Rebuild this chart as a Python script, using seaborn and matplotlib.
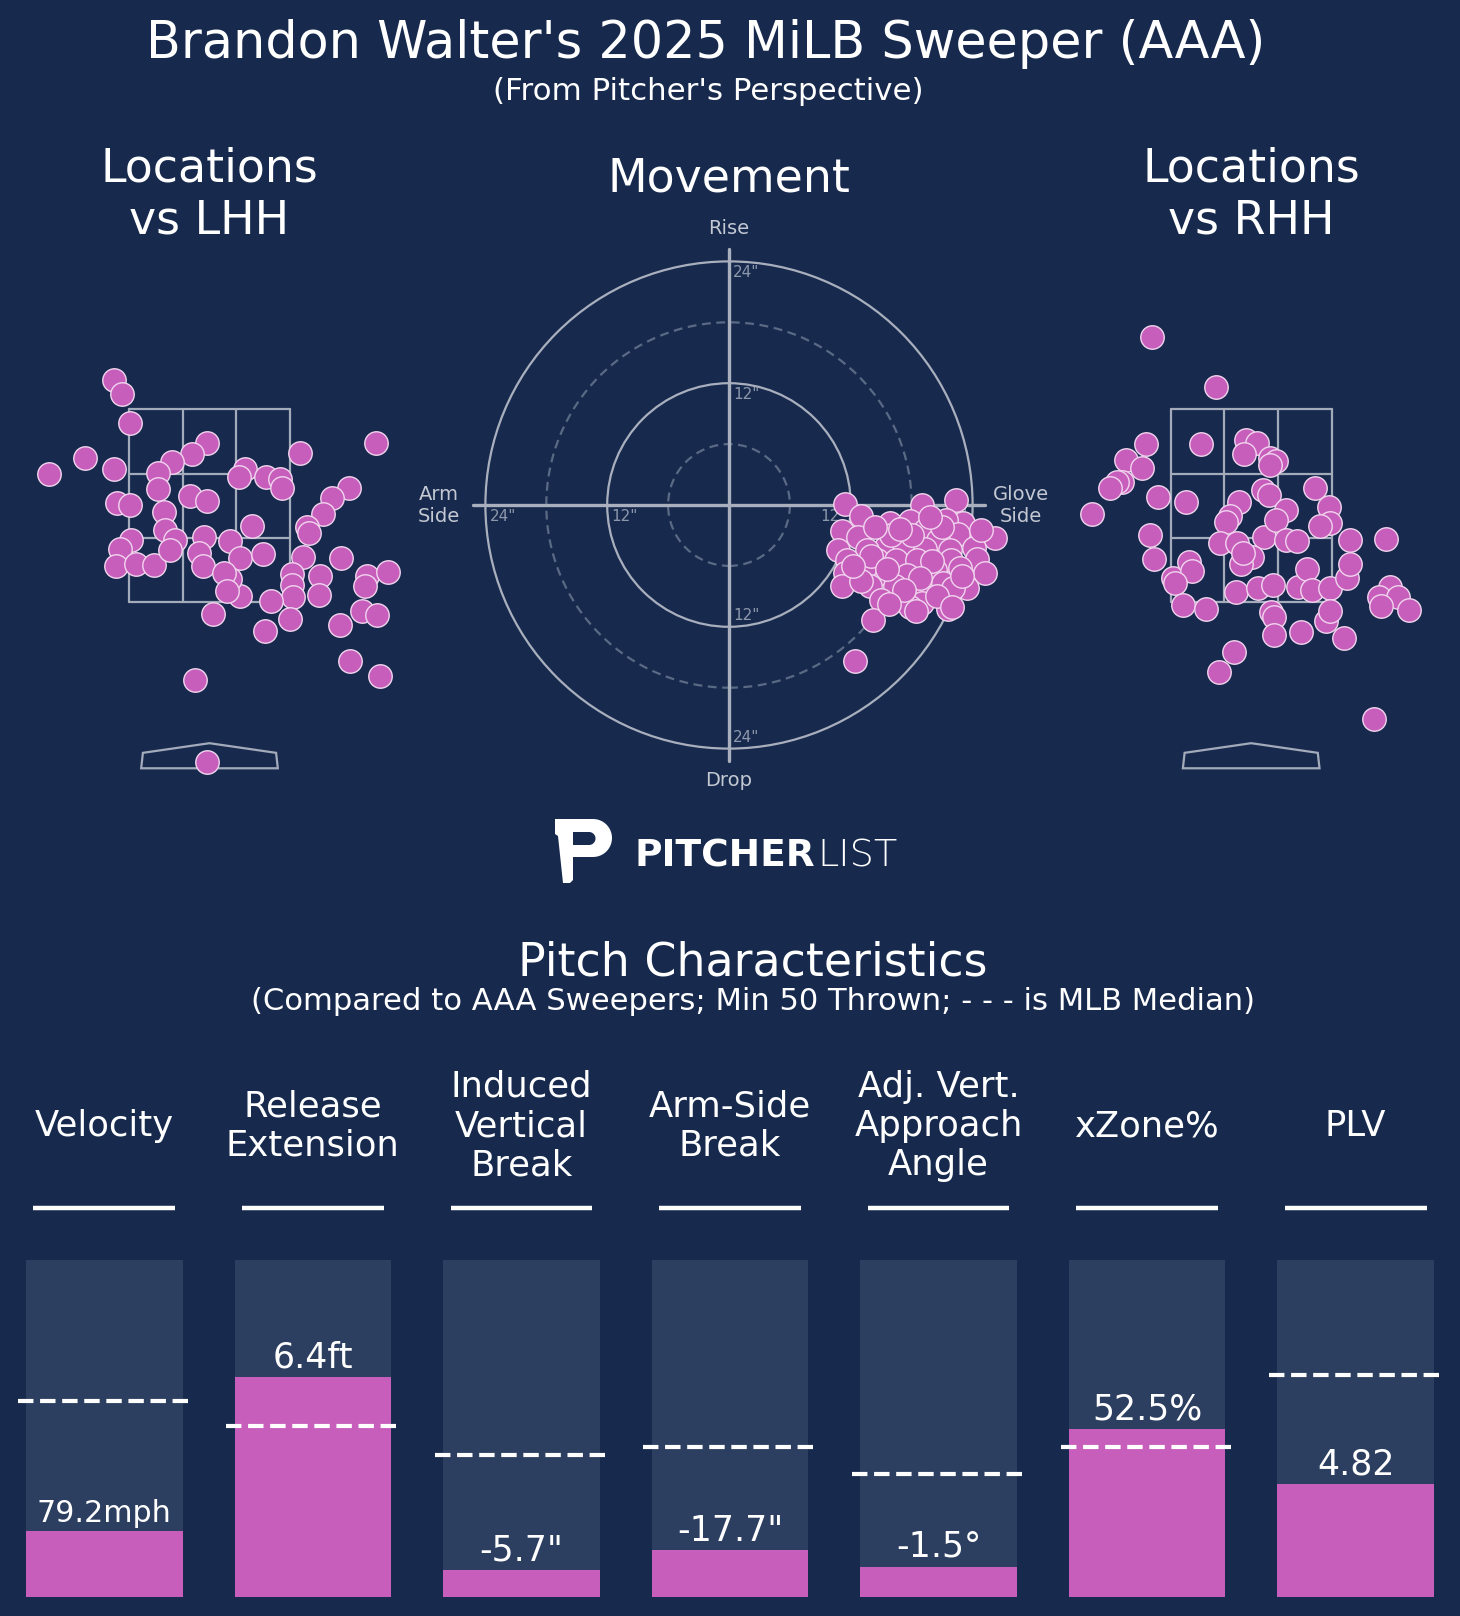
import numpy as np
import pandas as pd
import matplotlib.pyplot as plt
import matplotlib.patches as mpatches
import seaborn as sns

# Locations vs LHH (plate x / plate z, ft)
lhh_x = [-0.99, -0.91, -0.82, -1.66, -1.29, -0.99, -0.03, -0.18, -0.39, -0.53, -0.53, -0.96, -0.82, -0.20,
         -0.03, -0.47, -0.46, -0.36, -0.81, -0.93, -0.97, -0.76, -0.58, -0.41, -0.06, -0.11, -0.07, 0.21,
         0.32, 0.44, 0.55, 0.37, 0.31, 0.59, 0.73, 0.75, 0.94, 1.73, 1.45, 1.27, 1.18, 1.01, 1.03, 0.97,
         1.36, 0.86, 1.14, 0.86, 0.87, 1.13, 1.63, 1.61, 1.85, 1.58, 1.74, 1.35, 0.83, 0.64, 0.57, 0.32,
         0.21, 0.15, 0.18, 0.04, 1.46, 1.77, -0.15, -0.03]
lhh_z = [3.80, 3.66, 3.36, 2.83, 3.00, 2.88, 3.15, 3.04, 2.95, 2.84, 2.67, 2.53, 2.51, 2.60,
         2.55, 2.44, 2.25, 2.15, 2.15, 2.05, 1.88, 1.90, 1.89, 2.04, 2.18, 2.01, 1.88, 2.14,
         1.96, 2.29, 2.00, 2.88, 2.80, 2.80, 2.78, 2.68, 3.05, 3.15, 2.68, 2.58, 2.42, 2.28, 2.22, 1.97,
         1.96, 1.79, 1.77, 1.68, 1.56, 1.58, 1.77, 1.67, 1.81, 1.41, 1.37, 1.26, 1.33, 1.51, 1.20, 1.57,
         1.74, 1.80, 1.62, 1.38, 0.89, 0.74, 0.69, -0.15]

# Locations vs RHH
rhh_x = [-1.03, -0.36, -1.09, -1.30, -1.13, -1.34, -1.39, -1.46, -1.65, -0.97, -0.68, -0.52, -0.05, 0.06,
         -0.07, 0.19, 0.26, 0.19, 0.12, 0.18, -0.13, -0.22, -0.26, -0.32, -0.15, 0.13, 0.36, 0.26, 0.36,
         0.47, 0.66, 0.81, 0.82, 0.71, 1.02, 1.40, -1.05, -1.01, -0.81, -0.64, -0.61, -0.79, -0.71, -0.47,
         0.01, -0.11, -0.16, 0.07, 0.23, 0.49, 0.58, 0.63, 0.82, 0.99, 1.02, 1.44, 1.32, 1.52, 1.35, 1.64,
         0.21, 0.24, 0.24, 0.52, 0.77, 0.82, 0.96, -0.18, -0.33, 1.27, -0.09]
rhh_z = [4.25, 3.73, 3.14, 2.97, 2.89, 2.75, 2.75, 2.68, 2.42, 2.59, 2.54, 3.14, 3.18, 3.15,
         3.04, 3.00, 2.96, 2.92, 2.66, 2.61, 2.54, 2.39, 2.33, 2.11, 2.11, 2.18, 2.46, 2.35, 2.15,
         2.14, 2.68, 2.49, 2.32, 2.29, 2.15, 2.16, 2.20, 1.95, 1.75, 1.92, 1.82, 1.70, 1.47, 1.43,
         1.97, 1.90, 1.61, 1.65, 1.68, 1.66, 1.85, 1.63, 1.65, 1.75, 1.90, 1.66, 1.56, 1.55, 1.46, 1.42,
         1.40, 1.35, 1.16, 1.19, 1.31, 1.41, 1.13, 0.98, 0.78, 0.29, 2.01]

# Movement (horizontal / induced vertical break, inches)
hb = [11.4, 19.0, 22.4, 13.0, 15.9, 17.8, 23.1, 21.4, 11.1, 12.7, 19.3, 22.6, 26.2, 20.6, 10.7, 15.4, 17.2,
      19.3, 24.1, 21.8, 13.6, 11.6, 14.6, 16.5, 18.5, 21.9, 24.4, 11.4, 14.9, 17.5, 20.3, 25.2, 13.4, 11.1,
      13.9, 16.4, 19.0, 21.1, 23.4, 22.1, 15.0, 17.0, 19.0, 19.0, 21.6, 17.8, 14.2, 12.4,
      16.0, 18.0, 14.0, 20.0, 22.8, 15.6, 18.8, 13.0, 17.2, 20.5, 23.0, 12.2, 16.8, 21.0, 24.8, 14.4,
      19.8, 22.0, 18.4, 15.8]
ivb = [0.1, 0.0, 0.5, -1.1, -1.8, -1.6, -1.8, -1.5, -2.6, -3.2, -2.5, -2.9, -3.3, -3.4, -4.4, -4.2, -3.8,
       -4.3, -4.2, -4.4, -4.4, -5.4, -5.4, -5.4, -5.4, -5.4, -5.3, -6.7, -6.7, -6.9, -6.4, -6.7, -6.1, -8.0,
       -8.0, -8.0, -7.9, -7.7, -8.2, -8.2, -9.4, -9.4, -8.9, -9.7, -10.2, -10.0, -11.3, -15.4,
       -3.0, -3.0, -5.0, -5.5, -6.2, -6.3, -7.2, -7.5, -8.4, -9.0, -7.0, -6.0, -2.4, -2.2, -2.5, -2.2,
       -1.2, -10.0, -10.4, -9.8]

# Pitch characteristics (percentile bars)
metrics = ['Velocity', 'Release\nExtension', 'Induced\nVertical\nBreak', 'Arm-Side\nBreak',
           'Adj. Vert.\nApproach\nAngle', 'xZone%', 'PLV']
value_labels = ['79.2mph', '6.4ft', '-5.7"', '-17.7"', '-1.5°', '52.5%', '4.82']
percentiles = [19.7, 65.2, 8.1, 13.9, 9.1, 49.9, 33.6]
mlb_median = [58.2, 50.9, 42.2, 44.5, 36.6, 44.6, 65.9]

BG = '#172a4e'
BAR_BG = '#2d3f60'
PINK = '#c75ebb'
EDGE = '#f1d5ee'
ZONE = '#a3aaba'
GRID = '#a9afbd'
DASH = '#5a6984'
LABEL = '#c3c8d2'
TICK = '#8e98ab'

W, H = 1460, 1616

sns.set_style('dark', {'axes.facecolor': BG, 'figure.facecolor': BG})
plt.rcParams['font.family'] = ['DejaVu Sans']

fig = plt.figure(figsize=(W / 100, H / 100), dpi=100, facecolor=BG)


def rect(left, top, w, h):
    return [left / W, 1 - (top + h) / H, w / W, h / H]


def fy(py):
    return 1 - py / H


# titles
fig.text(706 / W, fy(58), "Brandon Walter's 2025 MiLB Sweeper (AAA)", ha='center', va='baseline',
         fontsize=36.6, color='white')
fig.text(708 / W, fy(100), "(From Pitcher's Perspective)", ha='center', va='baseline',
         fontsize=22.2, color='white')

# location panels
FT = 96.5
DOT = 285


def draw_locations(xv, zv, center, title):
    ax = fig.add_axes(rect(center - 2.1 * FT, 409.3 - 1.5 * FT, 4.2 * FT, 5.5 * FT))
    ax.set_xlim(-2.1, 2.1)
    ax.set_ylim(-0.5, 5.0)
    ax.axis('off')
    for x in [-0.833, -0.278, 0.278, 0.833]:
        ax.plot([x, x], [1.5, 3.5], color=ZONE, lw=1.6, zorder=1)
    for z in [1.5, 2.1667, 2.8333, 3.5]:
        ax.plot([-0.833, 0.833], [z, z], color=ZONE, lw=1.6, zorder=1)
    plate = mpatches.Polygon([(-0.708, -0.22), (0.708, -0.22), (0.69, -0.06), (0, 0.04), (-0.69, -0.06)],
                             closed=True, fill=False, edgecolor=ZONE, lw=1.6, zorder=1)
    ax.add_patch(plate)
    sns.scatterplot(x=xv, y=zv, ax=ax, s=DOT, color=PINK, edgecolor=EDGE, linewidth=1,
                    zorder=3, legend=False)
    for c in ax.collections:
        c.set_clip_on(False)
    fig.text(center / W, fy(195), title, ha='center', va='center', fontsize=33, color='white')


draw_locations(lhh_x, lhh_z, 209.5, 'Locations\nvs LHH')
draw_locations(rhh_x, rhh_z, 1251.2, 'Locations\nvs RHH')

# movement panel
IN = 10.15
axm = fig.add_axes(rect(729 - 30 * IN, 505 - 30 * IN, 60 * IN, 60 * IN))
axm.set_xlim(-30, 30)
axm.set_ylim(-30, 30)
axm.axis('off')
for r, solid in [(6, False), (12, True), (18, False), (24, True)]:
    axm.add_patch(mpatches.Circle((0, 0), r, fill=False, lw=1.6, zorder=1,
                                  edgecolor=GRID if solid else DASH,
                                  linestyle='-' if solid else (0, (4, 2.5))))
axm.plot([-25.2, 25.2], [0, 0], color=GRID, lw=2.4, zorder=1)
axm.plot([0, 0], [-25.2, 25.2], color=GRID, lw=2.4, zorder=1)
for r in [12, 24]:
    lab = f'{r}"'
    axm.text(0.4, r - 0.4, lab, ha='left', va='top', fontsize=11, color=TICK)
    axm.text(0.4, -r + 0.4, lab, ha='left', va='bottom', fontsize=11, color=TICK)
    axm.text(-r + 0.4, -0.4, lab, ha='left', va='top', fontsize=11, color=TICK)
    axm.text(r - 0.4, -0.4, lab, ha='right', va='top', fontsize=11, color=TICK)
axm.text(0, 27.2, 'Rise', ha='center', va='center', fontsize=14, color=LABEL)
axm.text(0, -27.1, 'Drop', ha='center', va='center', fontsize=14, color=LABEL)
axm.text(-28.6, 0, 'Arm\nSide', ha='center', va='center', fontsize=14, color=LABEL)
axm.text(28.8, 0, 'Glove\nSide', ha='center', va='center', fontsize=14, color=LABEL)
sns.scatterplot(x=hb, y=ivb, ax=axm, s=DOT, color=PINK, edgecolor=EDGE, linewidth=1,
                zorder=3, legend=False)
for c in axm.collections:
    c.set_clip_on(False)
fig.text(729 / W, fy(179), 'Movement', ha='center', va='center', fontsize=33, color='white')

# logo
axl = fig.add_axes([0, 0, 1, 1], zorder=-1)
axl.set_xlim(0, W)
axl.set_ylim(H, 0)
axl.axis('off')
t = np.linspace(np.pi / 2, -np.pi / 2, 30)
outer = [(555, 819)] + [(593 + 19 * np.cos(a), 838 - 19 * np.sin(a)) for a in t] + \
        [(573, 857), (573, 880), (570, 883), (563, 883), (558, 836), (555, 834)]
axl.add_patch(mpatches.Polygon(outer, closed=True, facecolor='white', edgecolor='none'))
inner = [(573, 832)] + [(589 + 6.5 * np.cos(a), 838.5 - 6.5 * np.sin(a)) for a in t] + [(573, 845)]
axl.add_patch(mpatches.Polygon(inner, closed=True, facecolor=BG, edgecolor='none'))
fig.text(635 / W, fy(866.7), 'PITCHER', ha='left', va='baseline', fontsize=27,
         fontweight='bold', color='white')
fig.text(817 / W, fy(866.7), 'LIST', ha='left', va='baseline', fontsize=27.5,
         fontweight='light', color='white')

# pitch characteristics
fig.text(753 / W, fy(975), 'Pitch Characteristics', ha='center', va='baseline', fontsize=33,
         color='white')
fig.text(753 / W, fy(1010), '(Compared to AAA Sweepers; Min 50 Thrown; - - - is MLB Median)',
         ha='center', va='baseline', fontsize=22.1, color='white')

axb = fig.add_axes(rect(0, 1260, W, 337.3))
bar_df = pd.DataFrame({'metric': metrics, 'pct': percentiles, 'full': [100] * len(metrics)})
sns.barplot(data=bar_df, x='metric', y='full', color=BAR_BG, width=0.75, saturation=1,
            errorbar=None, linewidth=0, edgecolor='none', ax=axb)
sns.barplot(data=bar_df, x='metric', y='pct', color=PINK, width=0.75, saturation=1,
            errorbar=None, linewidth=0, edgecolor='none', ax=axb)
axb.set_xlim(-0.5, len(metrics) - 0.5)
axb.set_ylim(0, 100)
axb.axis('off')
pos = np.arange(len(metrics))
axb.hlines(mlb_median, pos - 0.415, pos + 0.415, colors='white', linestyles='--', lw=3, zorder=4)
axb.hlines([115.3] * len(metrics), pos - 0.34, pos + 0.34, colors='white', lw=3.2, clip_on=False)
for i, (m, lab, p) in enumerate(zip(metrics, value_labels, percentiles)):
    axb.text(i, 139.7, m, ha='center', va='center', fontsize=25.5, color='white', clip_on=False)
    fs = 25 if len(lab) <= 6 else 21.7
    axb.text(i, p + 0.8, lab, ha='center', va='bottom', fontsize=fs, color='white', zorder=5)

fig.savefig('out.png', dpi=100, facecolor=BG)
